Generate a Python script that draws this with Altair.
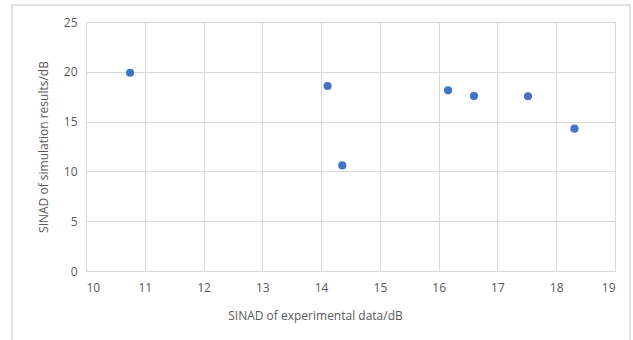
import altair as alt
import pandas as pd

exp_db = [10.75, 14.11, 14.36, 16.16, 16.60, 17.52, 18.31]
sim_db = [19.9, 18.57, 10.6, 18.14, 17.57, 17.54, 14.29]
x_ticks = [10, 11, 12, 13, 14, 15, 16, 17, 18, 19]
y_ticks = [0, 5, 10, 15, 20, 25]

df = pd.DataFrame({"exp": exp_db, "sim": sim_db})

W, H = 529, 249
FONT = "Open Sans"

border = alt.Chart(pd.DataFrame({"a": [0]})).mark_rect(
    fill=None, stroke="#d9d9d9", strokeWidth=1.5
).encode(
    x=alt.value(-74), x2=alt.value(544), y=alt.value(-17), y2=alt.value(400)
)

points = alt.Chart(df).mark_circle(size=66, color="#4472C4", opacity=1).encode(
    x=alt.X("exp:Q",
            scale=alt.Scale(domain=[10, 19], nice=False, zero=False),
            axis=alt.Axis(values=x_ticks, title="SINAD of experimental data/dB",
                          titleX=229, titleY=44, titleBaseline="middle",
                          labelPadding=11)),
    y=alt.Y("sim:Q",
            scale=alt.Scale(domain=[0, 25], nice=False),
            axis=alt.Axis(values=y_ticks, title="SINAD of simulation results/dB",
                          titleX=-43, titleY=H / 2, titleBaseline="middle",
                          titleAngle=-90, labelPadding=9)),
)

chart = alt.layer(border, points).properties(
    width=W, height=H,
    background="white",
    autosize=alt.AutoSizeParams(type="none"),
    padding={"left": 86, "top": 22, "right": 18, "bottom": 69},
).configure_view(stroke="#d9d9d9", strokeWidth=1).configure_axis(
    grid=True, gridColor="#d9d9d9", gridWidth=1, domain=False, ticks=False,
    labelFont=FONT, titleFont=FONT, labelFontSize=12, titleFontSize=12,
    labelColor="#595959", titleColor="#595959", titleFontWeight="normal"
)

chart.save("out.html", embed_options={"renderer": "svg", "actions": False})
